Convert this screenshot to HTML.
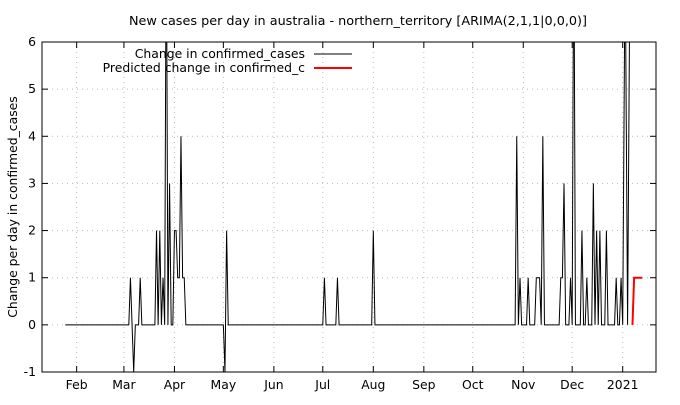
<!DOCTYPE html>
<html><head><meta charset="utf-8"><style>
body{margin:0;background:#fff}
svg text{font-family:"DejaVu Sans","Liberation Sans",sans-serif;font-size:12.4px;fill:#000}
</style></head><body>
<svg width="680" height="400">
<g id="grid"></g>
<g id="axes"></g>
<g id="series"></g>
<text x="358" y="25" text-anchor="middle" style="font-size:12.8px">New cases per day in australia - northern_territory [ARIMA(2,1,1|0,0,0)]</text>
<text transform="translate(17,207) rotate(-90)" text-anchor="middle">Change per day in confirmed_cases</text>
<g>
<text x="305" y="58" text-anchor="end">Change in confirmed_cases</text>
<line x1="314" y1="54" x2="352" y2="54" stroke="#000" stroke-width="1"/>
<text x="305" y="72" text-anchor="end">Predicted change in confirmed_c</text>
<line x1="314" y1="68" x2="352" y2="68" stroke="#f00" stroke-width="2"/>
</g>
<rect x="42" y="42" width="614" height="330" fill="none" stroke="#000"/>
</svg>
<script>
const yTicks=[-1,0,1,2,3,4,5,6];
const monthLabels=["Feb","Mar","Apr","May","Jun","Jul","Aug","Sep","Oct","Nov","Dec","2021"];
const monthDays=[31,60,91,121,152,182,213,244,274,305,335,366];
const actualDays=[24,63,64,65,66,67,69,70,71,79,80,81,82,83,84,85,86,87,88,89,90,91,92,93,94,95,96,97,98,121,122,123,124,182,183,184,190,191,192,212,213,214,300,301,302,303,304,307,308,309,312,313,315,316,317,318,327,328,329,330,331,333,334,335,336,337,340,341,342,343,344,345,347,348,349,350,351,352,353,355,356,357,361,362,363,364,365,366,367.5,369,370.5];
const actualVals=[0,0,1,0,-1,0,0,1,0,0,2,0,2,0,1,0,9,0,3,0,0,2,2,1,1,4,1,1,0,0,-1,2,0,0,1,0,0,1,0,0,2,0,0,4,0,1,0,0,1,0,0,1,1,0,4,0,0,1,1,3,0,0,1,0,9,0,0,2,0,0,1,0,0,3,0,2,0,2,0,0,2,0,0,1,0,0,1,0,8,0,8];
const predDays=[372,373,378];
const predVals=[0,1,1];
const NS="http://www.w3.org/2000/svg";
const X0=42,X1=656,Y0=42,Y1=372;
function xs(d){return 622.7+(d-366)*1.63;}
function ys(v){return Y1-(v+1)*(Y1-Y0)/7;}
function mk(t,a,p){const e=document.createElementNS(NS,t);for(const k in a)e.setAttribute(k,a[k]);p.appendChild(e);return e;}
const grid=document.getElementById('grid'),axes=document.getElementById('axes'),ser=document.getElementById('series');
yTicks.forEach(v=>{const y=ys(v);
 if(v>-1&&v<6){const g=mk('line',{x1:X0,x2:X1,y1:y,y2:y,stroke:'#bbb','stroke-dasharray':'1,4'},grid);
 
 }
 const t=mk('line',{x1:X0,x2:X0+6,y1:y,y2:y,stroke:'#000'},axes);
 
 
 const t2=mk('line',{x1:X1-6,x2:X1,y1:y,y2:y,stroke:'#000'},axes);
 
 
 const l=mk('text',{x:X0-6,y:y+4,'text-anchor':'end'},axes);l.textContent=v;
 
 });
monthDays.forEach((d,i)=>{const x=xs(d);
 const g=mk('line',{x1:x,x2:x,y1:Y0,y2:Y1,stroke:'#bbb','stroke-dasharray':'1,4'},grid);
 
 
 const t=mk('line',{x1:x,x2:x,y1:Y1-6,y2:Y1,stroke:'#000'},axes);
 
 
 const t2=mk('line',{x1:x,x2:x,y1:Y0,y2:Y0+6,stroke:'#000'},axes);
 
 
 const l=mk('text',{x:x,y:Y1+17,'text-anchor':'middle'},axes);l.textContent=monthLabels[i];
 
 });
const cp=mk('clipPath',{id:'cp'},ser);
mk('rect',{x:X0,y:Y0,width:X1-X0,height:Y1-Y0},cp);
const pa=mk('polyline',{points:actualDays.map((d,i)=>xs(d)+','+ys(actualVals[i])).join(' '),fill:'none',stroke:'#000','stroke-width':1,'clip-path':'url(#cp)'},ser);


const pp=mk('polyline',{points:predDays.map((d,i)=>xs(d)+','+ys(predVals[i])).join(' '),fill:'none',stroke:'#f00','stroke-width':2,'clip-path':'url(#cp)'},ser);


</script>
</body></html>
